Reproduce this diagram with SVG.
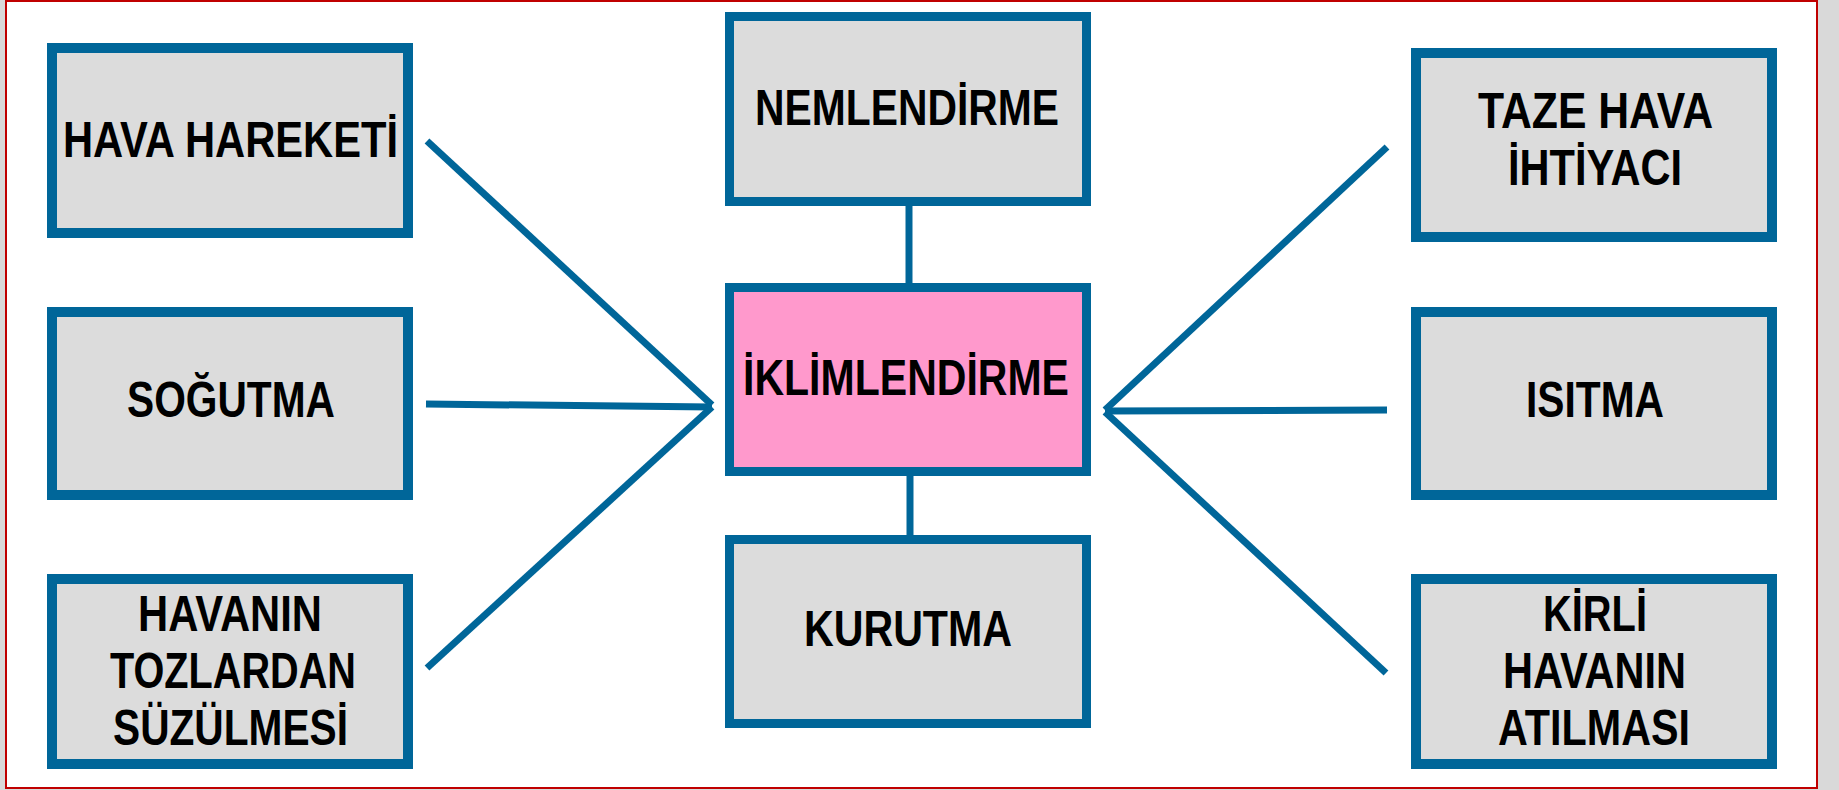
<svg xmlns="http://www.w3.org/2000/svg" width="1839" height="790" viewBox="0 0 1839 790">
<style>
.box{fill:#dcdcdc;stroke:#006699;stroke-width:10}
.cbox{fill:#dcdcdc;stroke:#006699;stroke-width:9}
.main{fill:#ff99cc;stroke:#006699;stroke-width:9}
.lbl{font-family:"Liberation Sans",Arial,sans-serif;font-weight:bold;font-size:50px;fill:#000}
.con line{stroke:#006699;stroke-width:7;stroke-linecap:butt}
</style>
<rect x="0" y="0" width="1839" height="790" fill="#d9d9d9"/>
<rect x="6" y="1" width="1811" height="787" fill="#ffffff" stroke="#c00000" stroke-width="2"/>
<g id="connectors" class="con">
<line x1="909" y1="206" x2="909" y2="283"/>
<line x1="910" y1="476" x2="910" y2="535"/>
<line x1="427" y1="141" x2="712" y2="405"/>
<line x1="426" y1="404" x2="712" y2="407"/>
<line x1="427" y1="668" x2="712" y2="407"/>
<line x1="1387" y1="147" x2="1105" y2="410"/>
<line x1="1387" y1="410" x2="1105" y2="411"/>
<line x1="1386" y1="673" x2="1105" y2="412"/>
</g>
<g id="hava-hareketi">
<rect class="box" x="52" y="48" width="356" height="185"/>
<text class="lbl" x="63" y="157" textLength="335" lengthAdjust="spacingAndGlyphs">HAVA HAREKETİ</text>
</g>
<g id="sogutma">
<rect class="box" x="52" y="312" width="356" height="183"/>
<text class="lbl" x="127" y="417" textLength="208" lengthAdjust="spacingAndGlyphs">SOĞUTMA</text>
</g>
<g id="havanin-tozlardan">
<rect class="box" x="52" y="579" width="356" height="185"/>
<text class="lbl" x="138" y="631" textLength="184" lengthAdjust="spacingAndGlyphs">HAVANIN</text>
<text class="lbl" x="110" y="688" textLength="246" lengthAdjust="spacingAndGlyphs">TOZLARDAN</text>
<text class="lbl" x="113" y="745" textLength="235" lengthAdjust="spacingAndGlyphs">SÜZÜLMESİ</text>
</g>
<g id="nemlendirme">
<rect class="cbox" x="729.5" y="16.5" width="357" height="185"/>
<text class="lbl" x="755" y="125" textLength="304" lengthAdjust="spacingAndGlyphs">NEMLENDİRME</text>
</g>
<g id="iklimlendirme">
<rect class="main" x="729.5" y="287.5" width="357" height="184"/>
<text class="lbl" x="743" y="395" textLength="326" lengthAdjust="spacingAndGlyphs">İKLİMLENDİRME</text>
</g>
<g id="kurutma">
<rect class="cbox" x="729.5" y="539.5" width="357" height="184"/>
<text class="lbl" x="804" y="646" textLength="208" lengthAdjust="spacingAndGlyphs">KURUTMA</text>
</g>
<g id="taze-hava">
<rect class="box" x="1416" y="53" width="356" height="184"/>
<text class="lbl" x="1478" y="128" textLength="235" lengthAdjust="spacingAndGlyphs">TAZE HAVA</text>
<text class="lbl" x="1508" y="185" textLength="174" lengthAdjust="spacingAndGlyphs">İHTİYACI</text>
</g>
<g id="isitma">
<rect class="box" x="1416" y="312" width="356" height="183"/>
<text class="lbl" x="1526" y="417" textLength="138" lengthAdjust="spacingAndGlyphs">ISITMA</text>
</g>
<g id="kirli-havanin">
<rect class="box" x="1416" y="579" width="356" height="185"/>
<text class="lbl" x="1543" y="631" textLength="104" lengthAdjust="spacingAndGlyphs">KİRLİ</text>
<text class="lbl" x="1503" y="688" textLength="183" lengthAdjust="spacingAndGlyphs">HAVANIN</text>
<text class="lbl" x="1498" y="745" textLength="192" lengthAdjust="spacingAndGlyphs">ATILMASI</text>
</g>
</svg>
